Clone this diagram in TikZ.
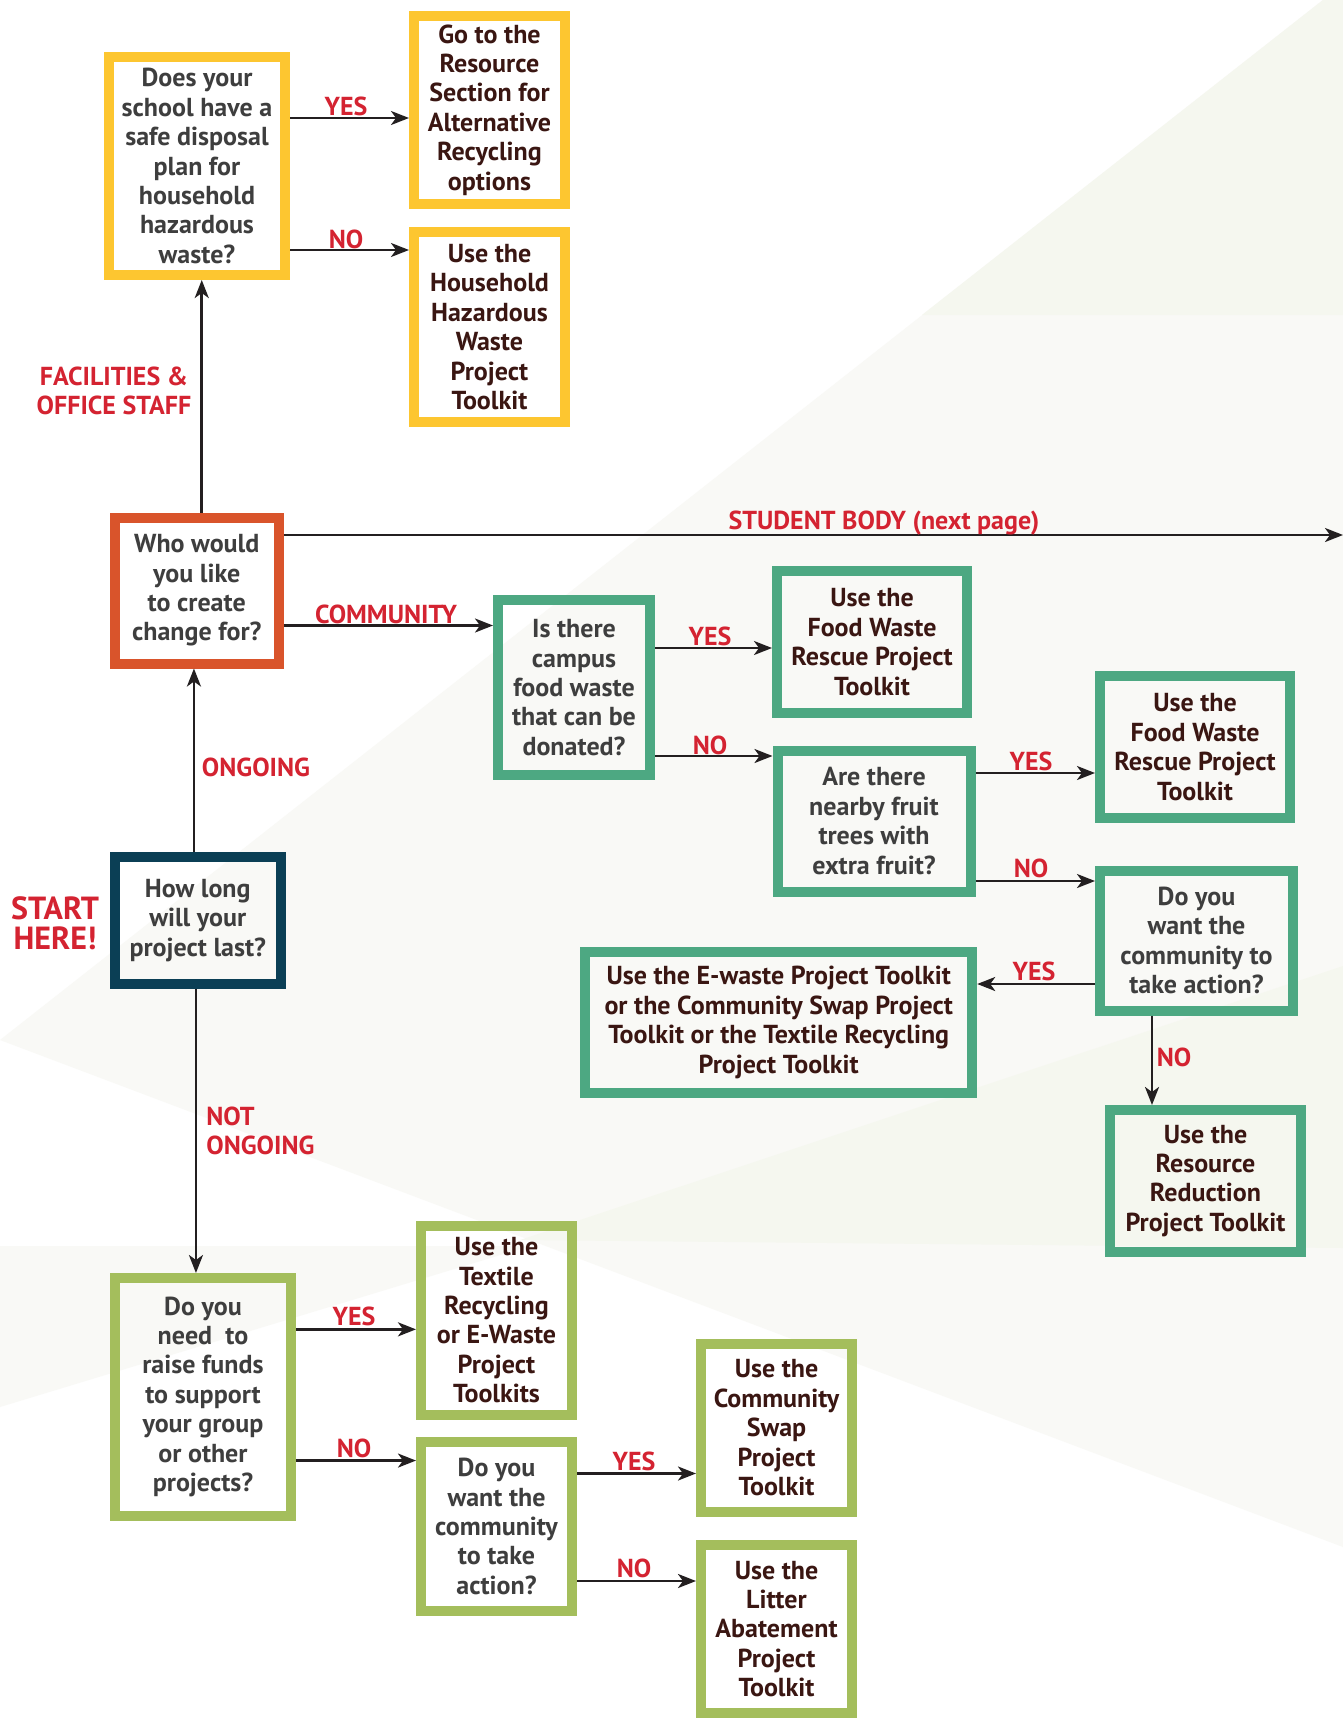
\documentclass[tikz,border=0pt]{standalone}
\usepackage{fontspec}
\setmainfont{PT Sans}
\usetikzlibrary{arrows.meta}

\definecolor{boxyellow}{HTML}{FDC630}
\definecolor{boxorange}{HTML}{D9542B}
\definecolor{boxteal}{HTML}{4DA882}
\definecolor{boxnavy}{HTML}{0B3F55}
\definecolor{boxolive}{HTML}{A4BE5C}
\definecolor{lred}{HTML}{D42331}
\definecolor{qgray}{HTML}{3E3E3E}
\definecolor{abrown}{HTML}{3A1612}
\definecolor{arrowc}{HTML}{231F20}
\definecolor{bglight}{HTML}{F9F9F6}
\definecolor{bggreen}{HTML}{F5F7EF}

\tikzset{
  box/.style={draw, line width=5pt, align=center, inner sep=1pt,
    font=\bfseries\fontsize{13}{14.7}\selectfont},
  ques/.style={box, text=qgray},
  answ/.style={box, text=abrown},
  lbl/.style={text=lred, inner sep=0pt, font=\bfseries\fontsize{13}{14.7}\selectfont},
  arr/.style={draw=arrowc, line width=1.3pt, -{Stealth[length=9pt,width=7pt,inset=2.5pt]}}
}

\begin{document}
\begin{tikzpicture}[x=0.5pt,y=-0.5pt]
    \useasboundingbox (0,0) rectangle (1343,1718);
    \fill[white] (0,0) rectangle (1343,1718);
    \fill[bglight] (1323,0) -- (1343,0) -- (1343,1547) -- (0,1040) -- cycle;
    \fill[bggreen] (1323,0) -- (1343,0) -- (1343,315) -- (922,315) -- cycle;
    \fill[bggreen] (520,1240) -- (1343,966) -- (1343,1248) -- cycle;
    \fill[bglight] (0,1246) -- (530,1246) -- (0,1407) -- cycle;

    \node[ques, draw=boxyellow, minimum width=88pt, minimum height=109pt] (q1) at (197,166)
        {Does your\\school have a\\safe disposal\\plan for\\household\\hazardous\\waste?};
    \node[answ, draw=boxyellow, minimum width=75.5pt, minimum height=94pt] (a1) at (489.5,110)
        {Go to the\\Resource\\Section for\\Alternative\\Recycling\\options};
    \node[answ, draw=boxyellow, minimum width=75.5pt, minimum height=95pt] (a2) at (489.5,327)
        {Use the\\Household\\Hazardous\\Waste\\Project\\Toolkit};
    \node[ques, draw=boxorange, minimum width=82.25pt, minimum height=73pt] (q0) at (196.75,590.5)
        {Who would\\you like\\to create\\change for?};
    \node[ques, draw=boxteal, minimum width=76pt, minimum height=87.5pt] (q2) at (574,687.5)
        {Is there\\campus\\food waste\\that can be\\donated?};
    \node[answ, draw=boxteal, minimum width=95pt, minimum height=71pt] (a3) at (872,642)
        {Use the\\Food Waste\\Rescue Project\\Toolkit};
    \node[ques, draw=boxteal, minimum width=96.5pt, minimum height=70.5pt] (q3) at (874,821)
        {Are there\\nearby fruit\\trees with\\extra fruit?};
    \node[answ, draw=boxteal, minimum width=95pt, minimum height=71pt] (a4) at (1195,747)
        {Use the\\Food Waste\\Rescue Project\\Toolkit};
    \node[ques, draw=boxteal, minimum width=96.5pt, minimum height=70pt] (q4) at (1196.5,940.6)
        {Do you\\want the\\community to\\take action?};
    \node[answ, draw=boxteal, minimum width=193.5pt, minimum height=70.5pt] (a5) at (778.7,1022.5)
        {Use the E-waste Project Toolkit\\or the Community Swap Project\\Toolkit or the Textile Recycling\\Project Toolkit};
    \node[answ, draw=boxteal, minimum width=95.5pt, minimum height=70.75pt] (a6) at (1205.5,1180.75)
        {Use the\\Resource\\Reduction\\Project Toolkit};
    \node[ques, draw=boxnavy, minimum width=83.25pt, minimum height=63.25pt] (q5) at (197.75,920.25)
        {How long\\will your\\project last?};
    \node[ques, draw=boxolive, minimum width=88pt, minimum height=118.75pt] (q6) at (203,1396.75)
        {Do you\\need~ to\\raise funds\\to support\\your group\\or other\\projects?};
    \node[answ, draw=boxolive, minimum width=75.5pt, minimum height=94.75pt] (a7) at (496.5,1320.25)
        {Use the\\Textile\\Recycling\\or E-Waste\\Project\\Toolkits};
    \node[ques, draw=boxolive, minimum width=75.5pt, minimum height=84.5pt] (q7) at (496.5,1526.5)
        {Do you\\want the\\community\\to take\\action?};
    \node[answ, draw=boxolive, minimum width=75.5pt, minimum height=83.75pt] (a8) at (776.5,1427.75)
        {Use the\\Community\\Swap\\Project\\Toolkit};
    \node[answ, draw=boxolive, minimum width=75.5pt, minimum height=84pt] (a9) at (776.5,1629)
        {Use the\\Litter\\Abatement\\Project\\Toolkit};
    \coordinate (nextpage) at (1343,535);

    \draw[arr] ([yshift=24pt]q1.east) -- ([yshift=24pt]q1.east -| a1.west);
    \draw[arr] ([yshift=-42pt]q1.east) -- ([yshift=-42pt]q1.east -| a2.west);
    \draw[arr] ([xshift=2.5pt]q0.north) -- ([xshift=2.5pt]q0.north |- q1.south);
    \draw[arr] (q0.east |- nextpage) -- (nextpage);
    \draw[arr] ([yshift=-17.5pt]q0.east) -- ([yshift=-17.5pt]q0.east -| q2.west);
    \draw[arr] ([yshift=19.75pt]q2.east) -- ([yshift=19.75pt]q2.east -| a3.west);
    \draw[arr] ([yshift=-34.25pt]q2.east) -- ([yshift=-34.25pt]q2.east -| q3.west);
    \draw[arr] ([yshift=24pt]q3.east) -- ([yshift=24pt]q3.east -| a4.west);
    \draw[arr] ([yshift=-30pt]q3.east) -- ([yshift=-30pt]q3.east -| q4.west);
    \draw[arr] ([yshift=-21.7pt]q4.west) -- ([yshift=-21.7pt]q4.west -| a5.east);
    \draw[arr] ([xshift=-22.25pt]q4.south) -- ([xshift=-22.25pt]q4.south |- a6.north);
    \draw[arr] ([xshift=-1.9pt]q5.north) -- ([xshift=-1.9pt]q5.north |- q0.south);
    \draw[arr] ([xshift=-0.9pt]q5.south) -- ([xshift=-0.9pt]q5.south |- q6.north);
    \draw[arr] ([yshift=33.7pt]q6.east) -- ([yshift=33.7pt]q6.east -| a7.west);
    \draw[arr] ([yshift=-31.9pt]q6.east) -- ([yshift=-31.9pt]q6.east -| q7.west);
    \draw[arr] ([yshift=26.5pt]q7.east) -- ([yshift=26.5pt]q7.east -| a8.west);
    \draw[arr] ([yshift=-27.25pt]q7.east) -- ([yshift=-27.25pt]q7.east -| a9.west);

    \node[lbl] (yes1) at (346,106) {YES};
    \node[lbl] (no1) at (346,239) {NO};
    \node[lbl, align=center] (staff) at (114,391) {FACILITIES \&\\OFFICE STAFF};
    \node[lbl] (student) at (884,523) {STUDENT BODY (next page)};
    \node[lbl] (community) at (386,614) {COMMUNITY};
    \node[lbl] (ongoing) at (256,767) {ONGOING};
    \node[lbl, align=center, font=\bfseries\fontsize{16}{15}\selectfont] (start) at (55,923) {START\\HERE!};
    \node[lbl, align=left, anchor=west] (notongoing) at (206,1131) {NOT\\ONGOING};
    \node[lbl] (yes2) at (710,636.5) {YES};
    \node[lbl] (no2) at (710,745) {NO};
    \node[lbl] (yes3) at (1031,761) {YES};
    \node[lbl] (no3) at (1031,868.5) {NO};
    \node[lbl] (yes4) at (1034,971.5) {YES};
    \node[lbl] (no4) at (1174,1057) {NO};
    \node[lbl] (yes5) at (354,1316.6) {YES};
    \node[lbl] (no5) at (354,1448) {NO};
    \node[lbl] (yes6) at (634,1461) {YES};
    \node[lbl] (no6) at (634,1568.5) {NO};
\end{tikzpicture}
\end{document}
